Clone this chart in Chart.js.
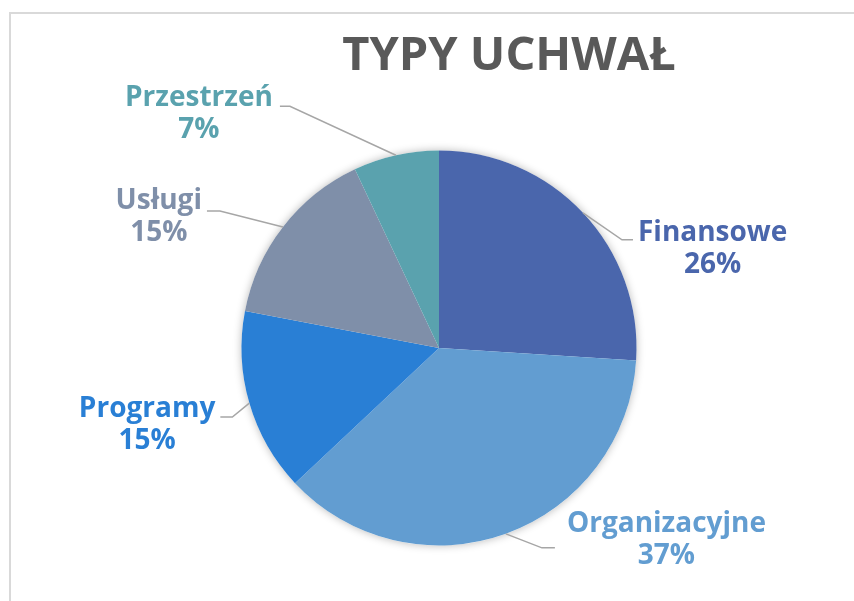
<!DOCTYPE html>
<html>
<head>
<meta charset="utf-8">
<script src="https://cdn.jsdelivr.net/npm/chart.js@4/dist/chart.umd.min.js"></script>
<style>
  html, body { margin: 0; padding: 0; background: #ffffff; }
  #wrap { width: 854px; height: 601px; position: relative; }
</style>
</head>
<body>
<div id="wrap"><canvas id="c" width="854" height="601"></canvas></div>
<script>
// ---- data ----
const titleText = 'TYPY UCHWAŁ';
const categories = ['Finansowe', 'Organizacyjne', 'Programy', 'Usługi', 'Przestrzeń'];
const values = [26, 37, 15, 15, 7];

// ---- styling ----
const colors = ['#4A66AC', '#629DD1', '#297FD5', '#7F8FA9', '#5AA2AE'];
const FONT = '"Open Sans", "Noto Sans", sans-serif';
// leader-line layout per label: elbow offset from slice edge, horizontal run, text gap, first-line baseline offset
const labelLayout = [
  { ex: 39,   ey: 27,  run: 11,  gap: 5,  dy: 1 },
  { ex: 36,   ey: 14,  run: 13,  gap: 12, dy: -16 },
  { ex: -17,  ey: 14,  run: -12, gap: 5,  dy: 0 },
  { ex: -63,  ey: -16, run: -13, gap: 5,  dy: -2 },
  { ex: -106, ey: -49, run: -10, gap: 7,  dy: 0 }
];

const total = values.reduce((a, b) => a + b, 0);

const framePlugin = {
  id: 'frame',
  beforeDraw(chart) {
    const ctx = chart.ctx;
    ctx.save();
    ctx.fillStyle = '#ffffff';
    ctx.fillRect(0, 0, chart.width, chart.height);
    ctx.fillStyle = '#D9D9D9';
    ctx.fillRect(9, 12, chart.width - 9, 2);
    ctx.fillRect(9, 12, 2, chart.height - 12);
    // title
    ctx.fillStyle = '#595959';
    ctx.font = 'bold 47px ' + FONT;
    ctx.textAlign = 'center';
    ctx.textBaseline = 'alphabetic';
    ctx.fillText(titleText, 509, 70);
    ctx.restore();
  }
};

const shadowPlugin = {
  id: 'pieShadow',
  beforeDatasetsDraw(chart) {
    const arc = chart.getDatasetMeta(0).data[0];
    if (!arc) return;
    const ctx = chart.ctx;
    ctx.save();
    ctx.shadowColor = 'rgba(0,0,0,0.28)';
    ctx.shadowBlur = 9;
    ctx.shadowOffsetX = 0;
    ctx.shadowOffsetY = 0;
    ctx.fillStyle = '#ffffff';
    ctx.beginPath();
    ctx.arc(arc.x, arc.y, arc.outerRadius, 0, Math.PI * 2);
    ctx.fill();
    ctx.restore();
  }
};

const labelPlugin = {
  id: 'leaderLabels',
  afterDatasetsDraw(chart) {
    const ctx = chart.ctx;
    const meta = chart.getDatasetMeta(0);
    ctx.save();
    meta.data.forEach((arc, i) => {
      const L = labelLayout[i];
      const mid = (arc.startAngle + arc.endAngle) / 2;
      const sx = arc.x + Math.cos(mid) * arc.outerRadius;
      const sy = arc.y + Math.sin(mid) * arc.outerRadius;
      const bx = sx + L.ex, by = sy + L.ey;
      const tx = bx + L.run;
      ctx.strokeStyle = '#A6A6A6';
      ctx.lineWidth = 1.5;
      ctx.beginPath();
      ctx.moveTo(sx, sy);
      ctx.lineTo(bx, by);
      ctx.lineTo(tx, by);
      ctx.stroke();

      const line1 = categories[i];
      const line2 = Math.round(values[i] / total * 100) + '%';
      ctx.font = 'bold 28px ' + FONT;
      const w = Math.max(ctx.measureText(line1).width, ctx.measureText(line2).width);
      const dir = L.run >= 0 ? 1 : -1;
      const cx = tx + dir * (L.gap + w / 2);
      ctx.fillStyle = colors[i];
      ctx.textAlign = 'center';
      ctx.textBaseline = 'alphabetic';
      ctx.fillText(line1, cx, by + L.dy);
      ctx.fillText(line2, cx, by + L.dy + 32);
    });
    ctx.restore();
  }
};

new Chart(document.getElementById('c'), {
  type: 'pie',
  data: {
    labels: categories,
    datasets: [{
      data: values,
      backgroundColor: colors,
      borderWidth: 0
    }]
  },
  options: {
    responsive: false,
    animation: false,
    devicePixelRatio: 1,
    layout: { padding: { left: 241.5, right: 217.5, top: 150.5, bottom: 55.5 } },
    plugins: {
      legend: { display: false },
      tooltip: { enabled: false },
      title: { display: false }
    }
  },
  plugins: [framePlugin, shadowPlugin, labelPlugin]
});
</script>
</body>
</html>
